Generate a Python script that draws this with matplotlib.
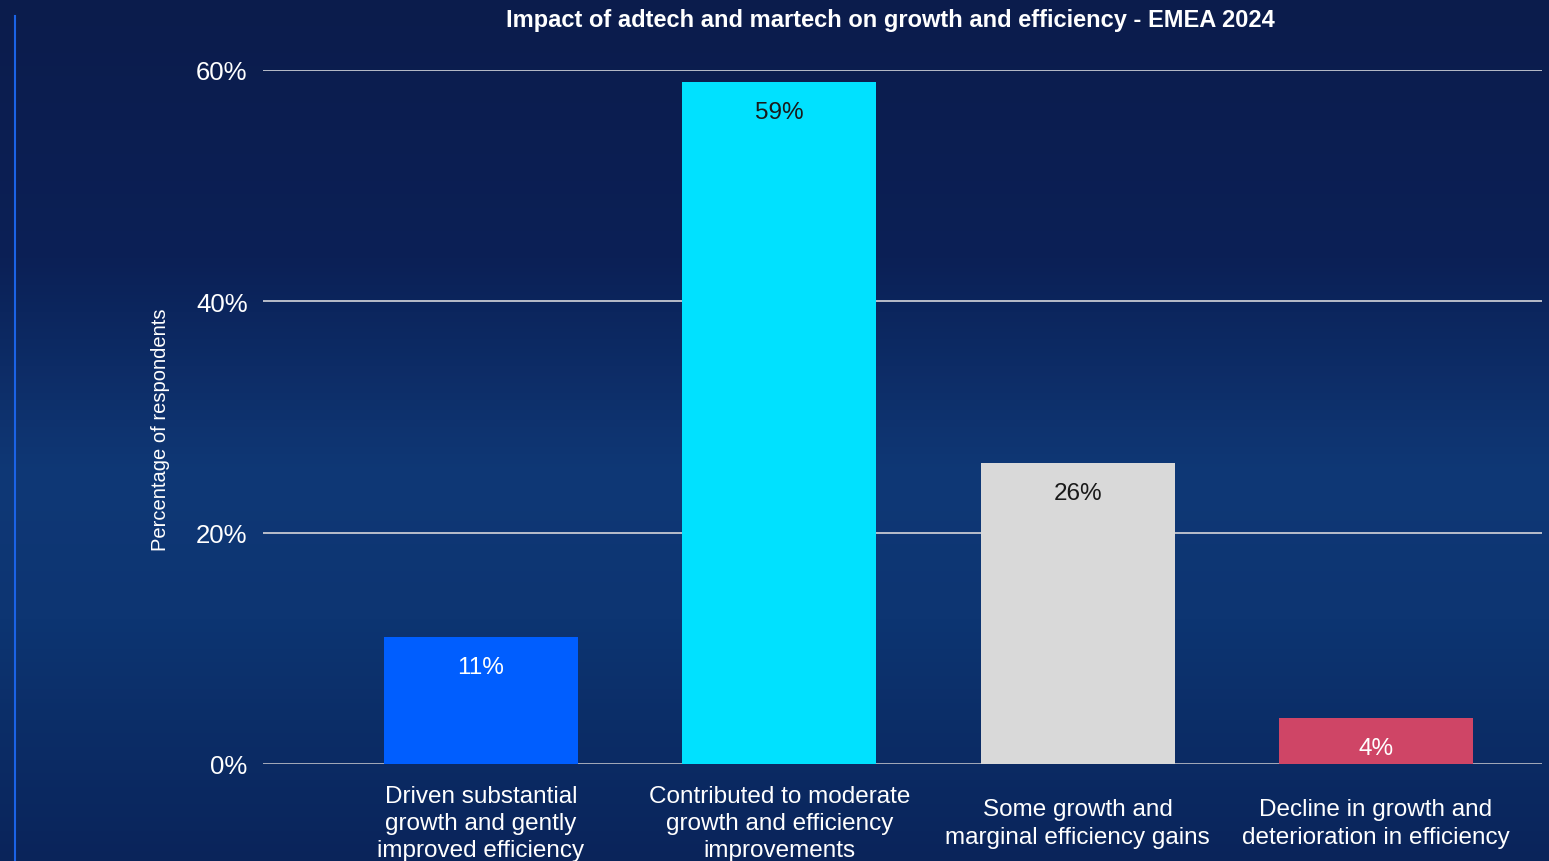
import matplotlib.pyplot as plt
import numpy as np
from matplotlib.colors import LinearSegmentedColormap

plt.rcParams["font.family"] = ["Liberation Sans", "DejaVu Sans"]

categories = [
    "Driven substantial\ngrowth and gently\nimproved efficiency",
    "Contributed to moderate\ngrowth and efficiency\nimprovements",
    "Some growth and\nmarginal efficiency gains",
    "Decline in growth and\ndeterioration in efficiency",
]
values = [11, 59, 26, 4]
bar_colors = ["#005eff", "#00e1ff", "#d9d9d9", "#cf4566"]
label_colors = ["white", "#1a1a1a", "#1a1a1a", "white"]
yticks = [0, 20, 40, 60]

fig = plt.figure(figsize=(15.49, 8.62), dpi=100)

# dark navy backdrop, lighter blue haze towards the lower middle
bg = fig.add_axes([0, 0, 1, 1], zorder=0)
bg_cmap = LinearSegmentedColormap.from_list(
    "bg", [(0.0, "#0b1c4c"), (0.3, "#0b2056"), (0.55, "#0f3876"),
           (0.72, "#0d3572"), (1.0, "#0a245a")])
grad = np.linspace(0, 1, 256).reshape(-1, 1)
bg.imshow(grad, aspect="auto", cmap=bg_cmap, extent=[0, 1, 0, 1])
bg.set_axis_off()
bg.plot([0.0097, 0.0097], [0, 0.98], color="#1b63e6", lw=1.5)
bg.set_xlim(0, 1)
bg.set_ylim(0, 1)

ax = fig.add_axes([263 / 1549, 1 - 765 / 862, (1542 - 263) / 1549, (765 - 71) / 862], zorder=1)
ax.patch.set_alpha(0)

x = np.arange(len(categories))
bars = ax.bar(x, values, width=0.65, color=bar_colors, zorder=3)

for b, v, c in zip(bars, values, label_colors):
    ax.text(b.get_x() + b.get_width() / 2, v - 2.6, f"{v}%", ha="center", va="center",
            fontsize=17.5, color=c, zorder=4)

ax.set_xlim(-0.731, 3.557)
ax.set_ylim(0, 60)
ax.set_yticks(yticks)
ax.set_yticklabels([f"{t}%" for t in yticks])
ax.set_xticks(x)
ax.set_xticklabels(categories, linespacing=1.3)
ax.tick_params(axis="y", length=0, pad=11, labelsize=18.5, labelcolor="white")
ax.tick_params(axis="x", length=0, pad=42.5, labelsize=17.5, labelcolor="white")
for lab in ax.get_xticklabels():
    lab.set_verticalalignment("center")
ax.yaxis.grid(True, color="#c6c9d2", lw=1.3, zorder=1)
ax.set_axisbelow(True)
for s in ax.spines.values():
    s.set_visible(False)
ax.axhline(0, color="#9aa1b3", lw=1.8, zorder=2)

fig.text(160 / 1549, 1 - 430 / 862, "Percentage of respondents", rotation=90,
         ha="center", va="center", fontsize=14.5, color="white")

fig.text(890 / 1549, 1 - 20 / 862, "Impact of adtech and martech on growth and efficiency - EMEA 2024",
         ha="center", va="center", fontsize=17, fontweight="bold", color="white")

fig.savefig("out.png", dpi=100)
